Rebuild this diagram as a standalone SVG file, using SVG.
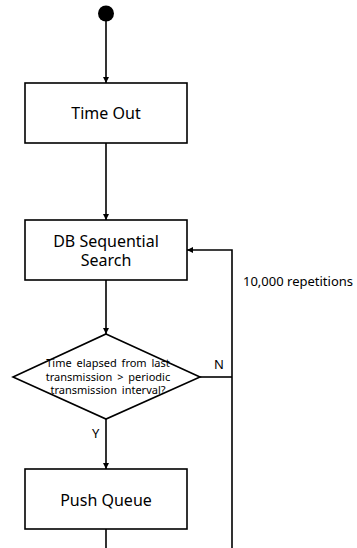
<svg xmlns="http://www.w3.org/2000/svg" width="357" height="548" viewBox="0 0 357 548">
  <style>
    .box { fill: #ffffff; stroke: #000000; stroke-width: 1.6; }
    .line { fill: none; stroke: #000000; stroke-width: 1.6; }
    .label { font-family: "Noto Sans", "Open Sans", "DejaVu Sans", sans-serif; fill: #000000; text-anchor: middle; }
    .big { font-size: 16px; }
    .small { font-size: 11px; }
    .side { font-size: 13px; text-anchor: start; }
  </style>
  <defs>
    <marker id="arrow" viewBox="0 0 10 10" refX="10" refY="5" markerWidth="6" markerHeight="6" markerUnits="userSpaceOnUse" orient="auto">
      <path d="M0,0 L10,5 L0,10 z" fill="#000000"/>
    </marker>
  </defs>
  <rect width="357" height="548" fill="#ffffff"/>

  <g id="connectors">
    <line class="line" x1="106" y1="20" x2="106" y2="83" marker-end="url(#arrow)"/>
    <line class="line" x1="106" y1="143" x2="106" y2="220" marker-end="url(#arrow)"/>
    <line class="line" x1="106" y1="280" x2="106" y2="334" marker-end="url(#arrow)"/>
    <line class="line" x1="106" y1="419" x2="106" y2="469" marker-end="url(#arrow)"/>
    <line class="line" x1="106" y1="529" x2="106" y2="548"/>
    <polyline class="line" points="200,377 232,377"/>
    <polyline class="line" points="232,548 232,250 187,250" marker-end="url(#arrow)"/>
    <text class="label side" x="214" y="369" font-size="14">N</text>
    <text class="label side" x="92" y="438" font-size="14">Y</text>
    <text class="label side" x="243" y="286">10,000 repetitions</text>
  </g>

  <g id="start">
    <circle cx="106" cy="13.5" r="8" fill="#000000"/>
  </g>

  <g id="time-out">
    <rect class="box" x="25" y="83" width="162" height="60"/>
    <text class="label big" x="106" y="119">Time Out</text>
  </g>

  <g id="db-search">
    <rect class="box" x="25" y="220" width="162" height="60"/>
    <text class="label big" x="106" y="247">DB Sequential</text>
    <text class="label big" x="106" y="266">Search</text>
  </g>

  <g id="decision">
    <polygon class="box" points="106,334 200,377 106,419 13,377"/>
    <text class="label small" x="108" y="367" word-spacing="2">Time elapsed from last</text>
    <text class="label small" x="108" y="381" word-spacing="2">transmission &gt; periodic</text>
    <text class="label small" x="108" y="394" word-spacing="2">transmission interval?</text>
  </g>

  <g id="push-queue">
    <rect class="box" x="25" y="469" width="162" height="60"/>
    <text class="label big" x="106" y="506">Push Queue</text>
  </g>
</svg>
